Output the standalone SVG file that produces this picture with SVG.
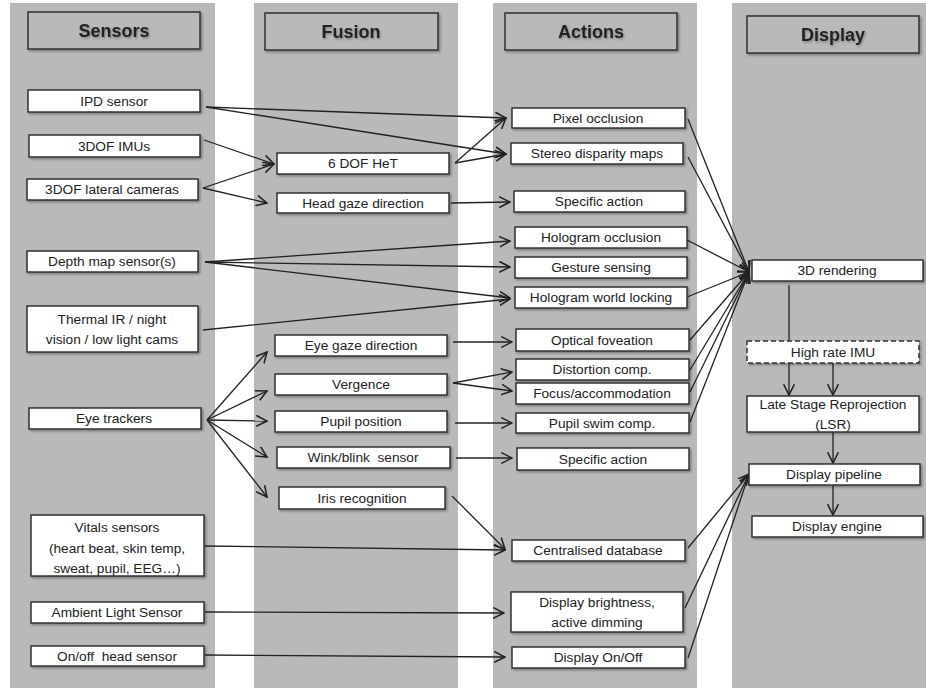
<svg xmlns="http://www.w3.org/2000/svg" width="926" height="688" viewBox="0 0 926 688">
  <defs>
    <filter id="shadow" x="-10%" y="-30%" width="120%" height="160%">
      <feDropShadow dx="1.5" dy="1.5" stdDeviation="1" flood-color="#000" flood-opacity="0.35"/>
    </filter>
    <filter id="tshadow" x="-10%" y="-30%" width="120%" height="160%">
      <feDropShadow dx="1" dy="1.5" stdDeviation="1" flood-color="#000" flood-opacity="0.3"/>
    </filter>
    <marker id="arrow" markerWidth="12" markerHeight="12" refX="9" refY="5" orient="auto" markerUnits="userSpaceOnUse" viewBox="0 0 10 10">
      <path d="M0,0.5 L9,5 L0,9.5" fill="none" stroke="#222" stroke-width="1.3"/>
    </marker>
    <style>
      .col { fill: #b9b9b9; }
      .hdr rect { fill: #b9b9b9; stroke: #3a3a3a; stroke-width: 1.6; filter: url(#shadow); }
      .hdr text { font-family: "Liberation Sans", Arial, sans-serif; font-weight: bold; font-size: 18px; fill: #222; text-anchor: middle; filter: url(#tshadow); }
      .node rect { fill: #fff; stroke: #333; stroke-width: 1.5; filter: url(#shadow); }
      .node.dashed rect { stroke-dasharray: 5 3; }
      .node text { font-family: "Liberation Sans", Arial, sans-serif; font-size: 13.7px; fill: #222; text-anchor: middle; white-space: pre; }
      .conn line { stroke: #222; stroke-width: 1.3; fill: none; }
      .conn .a { marker-end: url(#arrow); }
    </style>
  </defs>

  <rect width="926" height="688" fill="#fff"/>

  <!-- column bands -->
  <rect class="col" x="10" y="3" width="205" height="685"/>
  <rect class="col" x="254" y="3" width="204" height="685"/>
  <rect class="col" x="493" y="3" width="204" height="685"/>
  <rect class="col" x="732" y="3" width="194" height="685"/>

  <!-- column headers -->
  <g id="hdr-sensors" class="hdr"><rect x="28" y="12" width="172" height="37"/><text x="114" y="37">Sensors</text></g>
  <g id="hdr-fusion" class="hdr"><rect x="265" y="13" width="173" height="37"/><text x="351" y="38">Fusion</text></g>
  <g id="hdr-actions" class="hdr"><rect x="505" y="13" width="172" height="37"/><text x="591" y="38">Actions</text></g>
  <g id="hdr-display" class="hdr"><rect x="747" y="16" width="172" height="37"/><text x="833" y="41">Display</text></g>

  <!-- connectors -->
  <g id="connectors" class="conn">
    <!-- sensors to fusion / actions -->
    <line class="a" x1="206" y1="107" x2="506" y2="118"/>
    <line class="a" x1="206" y1="107" x2="506" y2="154"/>
    <line class="a" x1="204" y1="140" x2="274" y2="164"/>
    <line class="a" x1="203" y1="188" x2="274" y2="164"/>
    <line class="a" x1="203" y1="188" x2="267" y2="203"/>
    <line class="a" x1="205" y1="262" x2="510" y2="241"/>
    <line class="a" x1="205" y1="262" x2="510" y2="267"/>
    <line class="a" x1="205" y1="262" x2="510" y2="298"/>
    <line class="a" x1="203" y1="330" x2="510" y2="299"/>
    <line class="a" x1="207" y1="420" x2="267" y2="352"/>
    <line class="a" x1="207" y1="420" x2="267" y2="391"/>
    <line class="a" x1="207" y1="420" x2="267" y2="421"/>
    <line class="a" x1="207" y1="420" x2="267" y2="457"/>
    <line class="a" x1="207" y1="420" x2="267" y2="497"/>
    <line class="a" x1="205" y1="546" x2="505" y2="550"/>
    <line class="a" x1="205" y1="612" x2="504" y2="613"/>
    <line class="a" x1="205" y1="655" x2="505" y2="657"/>
    <!-- fusion to actions -->
    <line class="a" x1="455" y1="163" x2="506" y2="118"/>
    <line class="a" x1="455" y1="163" x2="506" y2="154"/>
    <line class="a" x1="451" y1="203" x2="510" y2="202"/>
    <line class="a" x1="453" y1="342" x2="512" y2="342"/>
    <line class="a" x1="453" y1="383" x2="512" y2="372"/>
    <line class="a" x1="453" y1="383" x2="512" y2="391"/>
    <line class="a" x1="455" y1="423" x2="512" y2="423"/>
    <line class="a" x1="456" y1="458" x2="512" y2="458"/>
    <line class="a" x1="452" y1="496" x2="505" y2="549"/>
    <!-- actions to 3D rendering -->
    <line class="a" x1="688" y1="119" x2="749" y2="272"/>
    <line class="a" x1="688" y1="157" x2="749" y2="272"/>
    <line class="a" x1="687" y1="240" x2="749" y2="272"/>
    <line class="a" x1="687" y1="297" x2="749" y2="272"/>
    <line class="a" x1="690" y1="340" x2="749" y2="272"/>
    <line class="a" x1="690" y1="370" x2="749" y2="272"/>
    <line class="a" x1="690" y1="392" x2="749" y2="272"/>
    <line class="a" x1="690" y1="422" x2="749" y2="272"/>
    <!-- actions to display pipeline -->
    <line class="a" x1="688" y1="548" x2="749" y2="474"/>
    <line class="a" x1="685" y1="608" x2="749" y2="474"/>
    <line class="a" x1="688" y1="658" x2="749" y2="474"/>
    <!-- display chain -->
    <line x1="789" y1="285" x2="789" y2="341"/>
    <line class="a" x1="789" y1="363" x2="789" y2="395"/>
    <line class="a" x1="833" y1="363" x2="833" y2="395"/>
    <line class="a" x1="833" y1="432" x2="833" y2="463"/>
    <line class="a" x1="833" y1="486" x2="833" y2="515"/>
  </g>

  <!-- sensors -->
  <g id="ipd-sensor" class="node"><rect x="28" y="90" width="172" height="22"/><text x="114" y="105.5">IPD sensor</text></g>
  <g id="imus" class="node"><rect x="29" y="135" width="171" height="22"/><text x="114" y="150.5">3DOF IMUs</text></g>
  <g id="lateral-cams" class="node"><rect x="27" y="179" width="171" height="21"/><text x="112" y="194">3DOF lateral cameras</text></g>
  <g id="depth-map" class="node"><rect x="27" y="251" width="171" height="21"/><text x="112" y="266">Depth map sensor(s)</text></g>
  <g id="thermal" class="node"><rect x="27" y="306" width="171" height="46"/><text x="112" y="323.5">Thermal IR / night</text><text x="112" y="343.5">vision / low light cams</text></g>
  <g id="eye-trackers" class="node"><rect x="29" y="408" width="172" height="21"/><text x="114" y="423">Eye trackers</text></g>
  <g id="vitals" class="node"><rect x="31" y="515" width="173" height="61"/><text x="117" y="531.5">Vitals sensors</text><text x="117" y="552.5">(heart beat, skin temp,</text><text x="117" y="572.5">sweat, pupil, EEG…)</text></g>
  <g id="ambient-light" class="node"><rect x="31" y="602" width="173" height="21"/><text x="117" y="617">Ambient Light Sensor</text></g>
  <g id="onoff-head" class="node"><rect x="31" y="646" width="173" height="20"/><text x="117" y="660.5" xml:space="preserve">On/off  head sensor</text></g>

  <!-- fusion -->
  <g id="het" class="node"><rect x="277" y="153" width="172" height="21"/><text x="363" y="168">6 DOF HeT</text></g>
  <g id="head-gaze" class="node"><rect x="277" y="193" width="172" height="20"/><text x="363" y="207.5">Head gaze direction</text></g>
  <g id="eye-gaze" class="node"><rect x="275" y="335" width="172" height="21"/><text x="361" y="350">Eye gaze direction</text></g>
  <g id="vergence" class="node"><rect x="275" y="374" width="172" height="21"/><text x="361" y="389">Vergence</text></g>
  <g id="pupil-position" class="node"><rect x="275" y="411" width="172" height="21"/><text x="361" y="426">Pupil position</text></g>
  <g id="wink-blink" class="node"><rect x="277" y="447" width="173" height="21"/><text x="363" y="462" xml:space="preserve">Wink/blink  sensor</text></g>
  <g id="iris" class="node"><rect x="279" y="487" width="166" height="22"/><text x="362" y="502.5">Iris recognition</text></g>

  <!-- actions -->
  <g id="pixel-occlusion" class="node"><rect x="512" y="108" width="173" height="20"/><text x="598" y="122.5">Pixel occlusion</text></g>
  <g id="stereo-disparity" class="node"><rect x="511" y="143" width="172" height="21"/><text x="597" y="158">Stereo disparity maps</text></g>
  <g id="specific-action-1" class="node"><rect x="514" y="191" width="171" height="21"/><text x="599" y="206">Specific action</text></g>
  <g id="hologram-occlusion" class="node"><rect x="515" y="227" width="172" height="21"/><text x="601" y="242">Hologram occlusion</text></g>
  <g id="gesture-sensing" class="node"><rect x="515" y="257" width="172" height="21"/><text x="601" y="272">Gesture sensing</text></g>
  <g id="world-locking" class="node"><rect x="515" y="287" width="172" height="21"/><text x="601" y="302">Hologram world locking</text></g>
  <g id="optical-foveation" class="node"><rect x="516" y="329" width="173" height="22"/><text x="602" y="344.5">Optical foveation</text></g>
  <g id="distortion-comp" class="node"><rect x="516" y="359" width="173" height="21"/><text x="602" y="374">Distortion comp.</text></g>
  <g id="focus-accommodation" class="node"><rect x="516" y="383" width="173" height="21"/><text x="602" y="398">Focus/accommodation</text></g>
  <g id="pupil-swim" class="node"><rect x="516" y="413" width="173" height="20"/><text x="602" y="427.5">Pupil swim comp.</text></g>
  <g id="specific-action-2" class="node"><rect x="517" y="448" width="172" height="22"/><text x="603" y="463.5">Specific action</text></g>
  <g id="central-db" class="node"><rect x="512" y="540" width="173" height="21"/><text x="598" y="555">Centralised database</text></g>
  <g id="display-brightness" class="node"><rect x="511" y="592" width="172" height="40"/><text x="597" y="606.5">Display brightness,</text><text x="597" y="626.5">active dimming</text></g>
  <g id="display-onoff" class="node"><rect x="512" y="647" width="173" height="21"/><text x="598" y="662">Display On/Off</text></g>

  <!-- display -->
  <g id="rendering-3d" class="node"><rect x="752" y="260" width="171" height="21"/><text x="837" y="275">3D rendering</text></g>
  <g id="high-rate-imu" class="node dashed"><rect x="747" y="341" width="172" height="22"/><text x="833" y="356.5">High rate IMU</text></g>
  <g id="lsr" class="node"><rect x="747" y="396" width="172" height="36"/><text x="833" y="408.5">Late Stage Reprojection</text><text x="833" y="428.5">(LSR)</text></g>
  <g id="display-pipeline" class="node"><rect x="749" y="464" width="171" height="21"/><text x="834" y="479">Display pipeline</text></g>
  <g id="display-engine" class="node"><rect x="752" y="516" width="171" height="21"/><text x="837" y="531">Display engine</text></g>
</svg>
